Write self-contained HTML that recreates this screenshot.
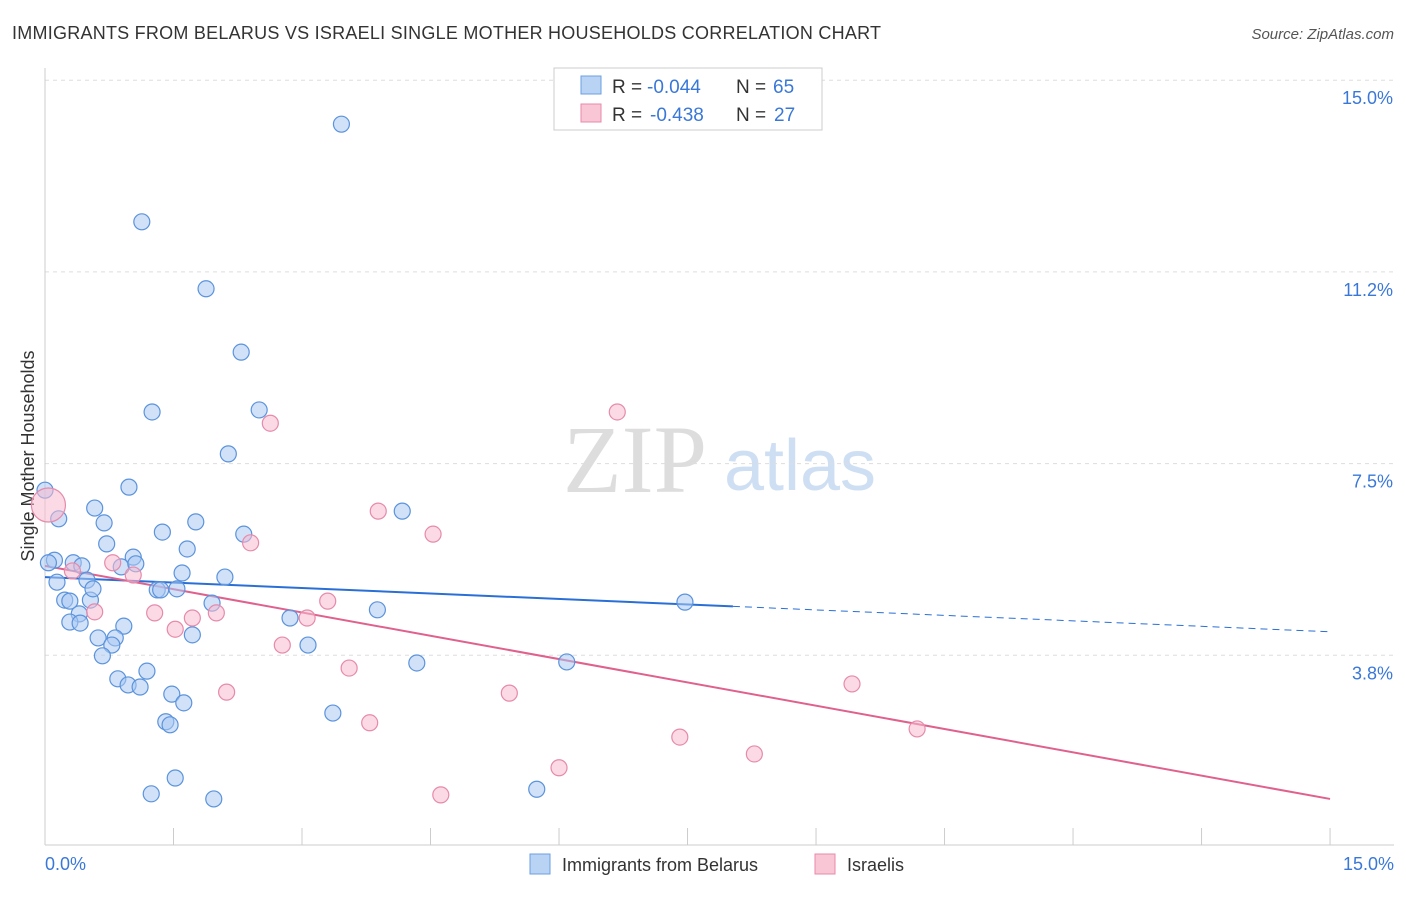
<!DOCTYPE html>
<html><head><meta charset="utf-8"><style>
body{margin:0;background:#fff;font-family:"Liberation Sans",sans-serif;}
</style></head><body>
<svg width="1406" height="892" viewBox="0 0 1406 892" xmlns="http://www.w3.org/2000/svg">
<text x="12" y="39" font-size="18" fill="#333" textLength="869">IMMIGRANTS FROM BELARUS VS ISRAELI SINGLE MOTHER HOUSEHOLDS CORRELATION CHART</text>
<text x="1394" y="39" font-size="15" fill="#555" font-style="italic" text-anchor="end">Source: ZipAtlas.com</text>
<g>
<text x="635" y="492" font-size="96" font-family="Liberation Serif,serif" fill="#ddd" text-anchor="middle">ZIP</text>
<text x="800" y="490" font-size="72" fill="#cfdff3" text-anchor="middle">atlas</text>
</g>
<g id="grid"></g>
<g id="axes"></g>
<text transform="translate(34,456) rotate(-90)" font-size="18" fill="#333" text-anchor="middle">Single Mother Households</text>
<text x="45" y="870" font-size="18" fill="#3a78d8">0.0%</text>
<text x="1394" y="870" font-size="18" fill="#3a78d8" text-anchor="end">15.0%</text>
<g id="lines"></g>
<g id="points"></g>
<g>
<rect x="554" y="68" width="268" height="62" fill="#fff" stroke="#ccc"/>
<rect x="581" y="76" width="20" height="18" fill="#b9d3f5" stroke="#6a9fe0"/>
<rect x="581" y="104" width="20" height="18" fill="#f9c6d6" stroke="#e88aaa"/>
<text x="612" y="93" font-size="19" fill="#333">R =</text>
<text x="647" y="93" font-size="19" fill="#3a78d8">-0.044</text>
<text x="736" y="93" font-size="19" fill="#333">N =</text>
<text x="773" y="93" font-size="19" fill="#3a78d8">65</text>
<text x="612" y="121" font-size="19" fill="#333">R =</text>
<text x="650" y="121" font-size="19" fill="#3a78d8">-0.438</text>
<text x="736" y="121" font-size="19" fill="#333">N =</text>
<text x="774" y="121" font-size="19" fill="#3a78d8">27</text>
</g>
<g>
<rect x="530" y="854" width="20" height="20" fill="#b9d3f5" stroke="#6a9fe0"/>
<text x="562" y="871" font-size="18" fill="#333">Immigrants from Belarus</text>
<rect x="815" y="854" width="20" height="20" fill="#f9c6d6" stroke="#e88aaa"/>
<text x="847" y="871" font-size="18" fill="#333">Israelis</text>
</g>
</svg>
<script>
const yTicks=[3.75,7.5,11.25,15];
const yTickLabels=["3.8%","7.5%","11.2%","15.0%"];
const xTicks=[0,1.5,3,4.5,6,7.5,9,10.5,12,13.5,15];
const blueX=[3.46,1.13,1.88,2.29,1.25,2.50,2.14,0.98,0.58,0.16,0.69,1.76,1.37,2.32,4.17,0.72,1.66,0.11,1.03,0.33,0.43,0.89,1.06,1.60,2.10,0.14,0.49,1.54,1.31,1.35,0.23,0.29,0.53,0.56,1.95,3.88,7.47,0.40,0.29,0.41,0.92,2.86,0.62,0.82,0.78,1.72,3.07,0.67,1.19,4.34,6.09,0.85,0.97,1.11,1.48,1.62,3.36,1.41,1.46,1.52,1.24,1.97,5.74,0.00,0.04];
const blueY=[14.14,12.23,10.92,9.68,8.51,8.55,7.69,7.04,6.63,6.42,6.34,6.36,6.16,6.12,6.57,5.93,5.83,5.61,5.67,5.56,5.50,5.48,5.54,5.36,5.28,5.18,5.22,5.05,5.03,5.03,4.83,4.81,4.83,5.05,4.77,4.64,4.79,4.56,4.40,4.38,4.32,4.48,4.09,4.09,3.95,4.15,3.95,3.74,3.44,3.60,3.62,3.29,3.17,3.13,2.99,2.82,2.62,2.45,2.39,1.35,1.04,0.94,1.13,6.98,5.56];
const pinkX=[0.04,6.68,2.63,3.89,4.53,2.40,0.79,1.03,0.32,0.58,1.28,2.00,1.72,3.30,3.06,1.52,2.77,3.55,2.12,5.42,9.42,3.79,7.41,10.18,8.28,6.00,4.62];
const pinkY=[6.69,8.51,8.29,6.57,6.12,5.95,5.56,5.32,5.40,4.60,4.58,4.58,4.48,4.81,4.48,4.26,3.95,3.50,3.03,3.01,3.19,2.43,2.15,2.31,1.82,1.55,1.02];
const blueTrend=[5.28,4.21];
const blueSolidEnd=8.03;
const pinkTrend=[5.50,0.94];
const NS="http://www.w3.org/2000/svg";
const sx=v=>45+v*85.67, sy=v=>847-v*51.12;
function mk(t,a,p){const e=document.createElementNS(NS,t);for(const k in a)e.setAttribute(k,a[k]);p.appendChild(e);return e;}
const grid=document.getElementById('grid'),axes=document.getElementById('axes'),lines=document.getElementById('lines'),pts=document.getElementById('points');
yTicks.forEach((t,i)=>{
 const l=mk('line',{x1:45,x2:1394,y1:sy(t),y2:sy(t),stroke:'#ddd','stroke-dasharray':'4,4'},grid);
 
 
 const tx=mk('text',{x:1393,y:sy(t)+24,'font-size':18,fill:'#3a78d8','text-anchor':'end'},grid);
 tx.textContent=yTickLabels[i];
 
 
});
const ax=mk('line',{x1:45,x2:45,y1:68,y2:845,stroke:'#ccc'},axes);


const bx=mk('line',{x1:45,x2:1394,y1:845,y2:845,stroke:'#ccc'},axes);


xTicks.forEach(t=>{
 const l=mk('line',{x1:sx(t),x2:sx(t),y1:828,y2:845,stroke:'#ccc'},axes);
 
 
});
function dot(x,y,fill,stroke,r){
 const c=mk('circle',{cx:sx(x),cy:sy(y),r:r,fill:fill,'fill-opacity':0.55,stroke:stroke,'stroke-width':1.2},pts);
 return c;
}
blueX.forEach((x,i)=>{
 const c=dot(x,blueY[i],'#a9c8f2','#5b93dc',8);
 
 
});
pinkX.forEach((x,i)=>{
 const c=dot(x,pinkY[i],'#f7bcd0','#e68aab',i===0?17:8);
 
 
});
const by=v=>blueTrend[0]+(blueTrend[1]-blueTrend[0])*v/15;
const b1=mk('line',{x1:sx(0),y1:sy(by(0)),x2:sx(blueSolidEnd),y2:sy(by(blueSolidEnd)),stroke:'#2a6fd6','stroke-width':2},lines);


const b2=mk('line',{x1:sx(blueSolidEnd),y1:sy(by(blueSolidEnd)),x2:sx(15),y2:sy(by(15)),stroke:'#2a6fd6','stroke-width':1,'stroke-dasharray':'7,5'},lines);


const p1=mk('line',{x1:sx(0),y1:sy(pinkTrend[0]),x2:sx(15),y2:sy(pinkTrend[1]),stroke:'#e0608e','stroke-width':2},lines);


</script>
</body></html>
